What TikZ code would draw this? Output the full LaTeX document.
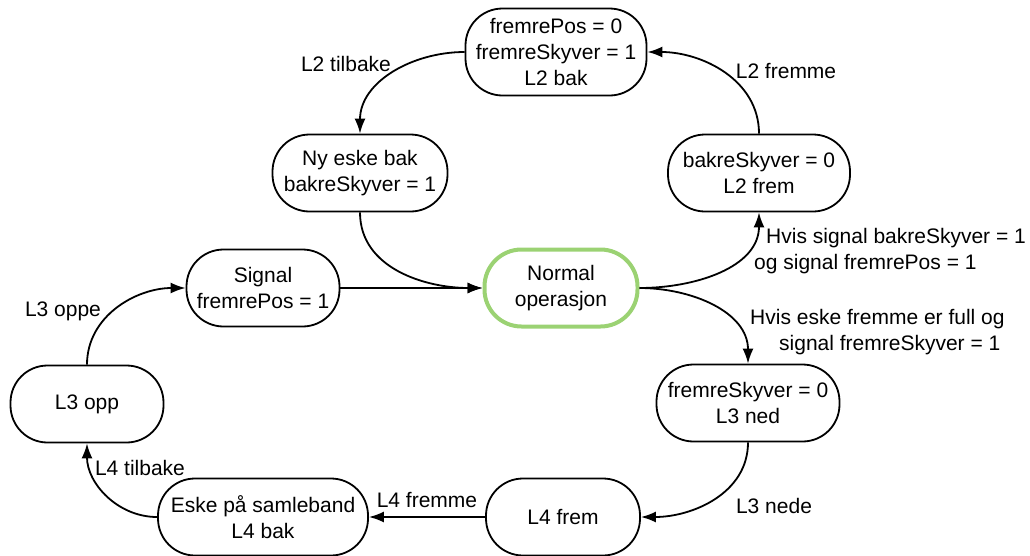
\documentclass[tikz,border=0pt]{standalone}
\usepackage{fontspec}
\setmainfont{Liberation Sans}
\usetikzlibrary{arrows.meta}
\definecolor{startgreen}{RGB}{155,210,115}

\begin{document}
\begin{tikzpicture}[x=1pt,y=-1pt,
  every node/.style={font=\fontsize{21}{26}\selectfont, align=center, inner sep=0pt},
  state/.style={draw=black, line width=1.8pt, rounded corners=37pt, minimum height=77pt},
  startstate/.style={state, draw=startgreen, line width=4pt},
  trans/.style={line width=1.8pt, -{Latex[length=15pt,width=11pt]}}]
\useasboundingbox (0,0) rectangle (1030,555);
\node[state, minimum width=181pt, minimum height=87pt] (bak2) at (556,52) {fremrePos = 0\\fremreSkyver = 1\\L2 bak};
\node[state, minimum width=175pt] (nybak) at (360,173) {Ny eske bak\\bakreSkyver = 1};
\node[state, minimum width=182pt] (frem2) at (759,173) {bakreSkyver = 0\\L2 frem};
\node[state, minimum width=153pt] (signal) at (263,288) {Signal\\fremrePos = 1};
\node[startstate, minimum width=153pt] (normal) at (561,288) {Normal\\operasjon};
\node[state, minimum width=153pt] (opp3) at (87,404) {L3 opp};
\node[state, minimum width=183pt] (ned3) at (748,403) {fremreSkyver = 0\\L3 ned};
\node[state, minimum width=154pt] (frem4) at (563,517) {L4 frem};
\node[state, minimum width=210pt] (bak4) at (263,517) {Eske på samleband\\L4 bak};

\node (ltilbake2) at (346,64) {L2 tilbake};
\node (lfremme2) at (786,71) {L2 fremme};
\node[align=left, anchor=north west] (lsignal) at (754,228) {\hspace*{12pt}Hvis signal bakreSkyver = 1\\og signal fremrePos = 1};
\node[align=left, anchor=north west] (lfull) at (750,309) {Hvis eske fremme er full og\\\hspace*{29pt}signal fremreSkyver = 1};
\node (lnede3) at (774,506) {L3 nede};
\node (lfremme4) at (427,500) {L4 fremme};
\node (ltilbake4) at (140,468) {L4 tilbake};
\node (loppe3) at (63,311) {L3 oppe};

\draw[trans] (bak2.west) to[out=180, in=90] (nybak.north);
\draw[trans] (frem2.north) to[out=90, in=0] (bak2.east);
\draw[trans] (nybak.south) to[out=-90, in=180] (normal.west);
\draw[trans] (signal.east) -- (normal.west);
\draw[trans] (normal.east) to[out=0, in=-90] (frem2.south);
\draw[trans] (normal.east) to[out=0, in=90] (ned3.north);
\draw[trans] (ned3.south) to[out=-90, in=0] (frem4.east);
\draw[trans] (frem4.west) -- (bak4.east);
\draw[trans] (bak4.west) to[out=180, in=-90] (opp3.south);
\draw[trans] (opp3.north) to[out=90, in=180] (signal.west);
\end{tikzpicture}
\end{document}
